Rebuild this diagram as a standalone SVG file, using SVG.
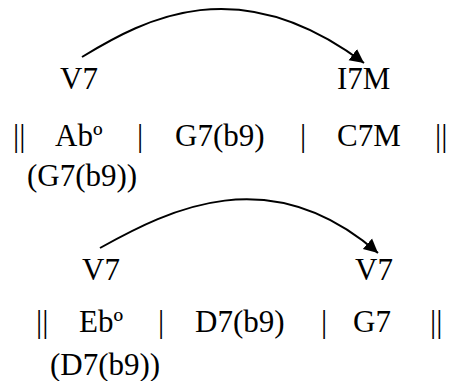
<svg xmlns="http://www.w3.org/2000/svg" width="450" height="381" viewBox="0 0 450 381">
<style>
text{font-family:'Liberation Serif',serif;font-size:31px;fill:#000}
.arc{fill:none;stroke:#000;stroke-width:2}
</style>
<defs>
<marker id="ah" markerUnits="userSpaceOnUse" markerWidth="16" markerHeight="16" refX="14" refY="8" orient="auto">
<path d="M0,1 L14,8 L0,15 z" fill="#000"/>
</marker>
</defs>
<rect width="450" height="381" fill="#fff"/>
<g id="connectors">
<path class="arc" d="M82,57 C146,18 239,-31 364,63" marker-end="url(#ah)"/>
<path class="arc" d="M100,248 C170,209 270,159 378,253" marker-end="url(#ah)"/>
</g>
<g id="top-v7"><text x="60" y="89">V7</text></g>
<g id="top-i7m"><text x="337" y="89">I7M</text></g>
<g id="top-bar1"><text x="13" y="146">||</text></g>
<g id="top-abo"><text x="55" y="146">Abº</text></g>
<g id="top-bar2"><text x="137" y="146">|</text></g>
<g id="top-g7b9"><text x="175" y="146">G7(b9)</text></g>
<g id="top-bar3"><text x="300" y="146">|</text></g>
<g id="top-c7m"><text x="337" y="146">C7M</text></g>
<g id="top-bar4"><text x="435" y="146">||</text></g>
<g id="top-sub"><text x="27" y="186">(G7(b9))</text></g>
<g id="bot-v7a"><text x="82" y="280">V7</text></g>
<g id="bot-v7b"><text x="355" y="280">V7</text></g>
<g id="bot-bar1"><text x="36" y="332">||</text></g>
<g id="bot-ebo"><text x="79" y="332">Ebº</text></g>
<g id="bot-bar2"><text x="158" y="332">|</text></g>
<g id="bot-d7b9"><text x="195" y="332">D7(b9)</text></g>
<g id="bot-bar3"><text x="321" y="332">|</text></g>
<g id="bot-g7"><text x="353" y="332">G7</text></g>
<g id="bot-bar4"><text x="430" y="332">||</text></g>
<g id="bot-sub"><text x="50" y="375">(D7(b9))</text></g>
</svg>
